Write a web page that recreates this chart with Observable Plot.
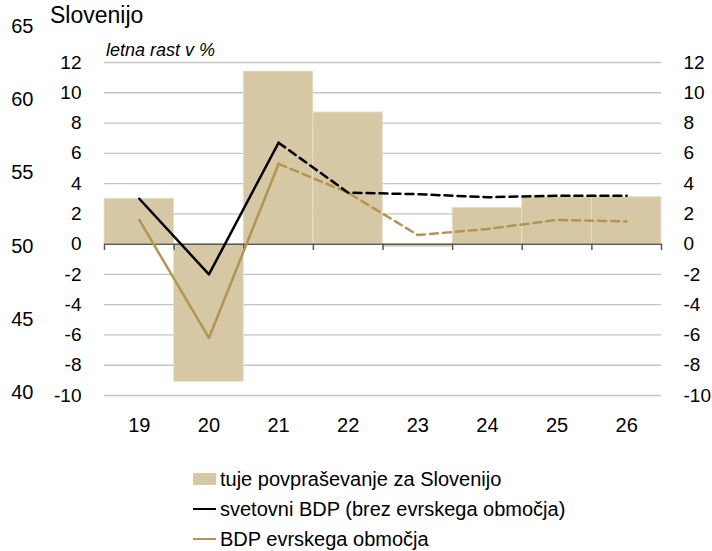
<!DOCTYPE html>
<html>
<head>
<meta charset="utf-8">
<script src="https://cdn.jsdelivr.net/npm/d3@7"></script>
<script src="https://cdn.jsdelivr.net/npm/@observablehq/plot@0.6"></script>
<style>
  html, body { margin: 0; padding: 0; background: #fff; }
  #wrap { position: relative; width: 712px; height: 551px; overflow: hidden; font-family: "Liberation Sans", Arial, sans-serif; color: #000; }
  #title { position: absolute; left: 50px; top: 2px; font-size: 23px; line-height: 1.15; white-space: nowrap; }
  #subtitle { position: absolute; left: 106px; top: 41px; font-size: 18px; font-style: italic; line-height: 1; white-space: nowrap; }
  #legend { position: absolute; left: 193px; top: 464px; font-size: 20px; line-height: 30px; }
  .row { display: flex; align-items: center; height: 30px; white-space: nowrap; }
  .sw { width: 23px; margin-right: 4px; }
  #chart { position: absolute; left: 0; top: 0; }
</style>
</head>
<body>
<div id="wrap">
  <div id="chart"></div>
  <div id="title">Slovenijo</div>
  <div id="subtitle">letna rast v %</div>
  <div id="legend"></div>
</div>
<script>
// ---- data ----
const years = ["19", "20", "21", "22", "23", "24", "25", "26"];
const foreignDemand = [3.0, -9.1, 11.4, 8.7, -0.2, 2.4, 3.1, 3.1];   // tuje povpraševanje za Slovenijo
const worldGDP      = [3.0, -2.0, 6.7, 3.4, 3.3, 3.1, 3.2, 3.2];      // svetovni BDP (brez evrskega območja)
const euroGDP       = [1.6, -6.2, 5.3, 3.4, 0.6, 1.0, 1.6, 1.5];      // BDP evrskega območja
const yTicks = [-10, -8, -6, -4, -2, 0, 2, 4, 6, 8, 10, 12];
const outerTicks = [40, 45, 50, 55, 60, 65];
const seriesNames = ["tuje povpraševanje za Slovenijo", "svetovni BDP (brez evrskega območja)", "BDP evrskega območja"];

// ---- styles ----
const barColor = "#d6c8a4";
const goldColor = "#b39552";
const lineColor = "#000000";

const rows = years.map((y, i) => ({i, year: y, fd: foreignDemand[i], w: worldGDP[i], e: euroGDP[i]}));
const solid = rows.filter(d => d.i <= 2);
const dashed = rows.filter(d => d.i >= 2);

// secondary (outer-left) axis mapped onto the main y scale
const outer = d3.scaleLinear([40, 65], [-9.83, 14.39]);
const fmt = d => String(d); // plain hyphen-minus as in the reference

const chart = Plot.plot({
  width: 712,
  height: 551,
  marginTop: 62,
  marginBottom: 156,
  marginLeft: 104,
  marginRight: 51,
  style: {fontSize: "19px", fontFamily: "Liberation Sans, Arial, sans-serif", color: "#000", background: "transparent"},
  x: {type: "linear", domain: [0, years.length]},
  y: {domain: [-10, 12]},
  marks: [
    Plot.ruleY(yTicks.filter(t => t !== 0), {stroke: "#c4c4c4", strokeWidth: 1.3}),
    Plot.rectY(rows, {x1: d => d.i, x2: d => d.i + 1, y1: 0, y2: "fd", fill: barColor, stroke: "#e9e1cc", strokeWidth: 0.8}),
    Plot.ruleY([0], {stroke: "#595959", strokeWidth: 1.5}),
    Plot.ruleX(d3.range(0, years.length + 1), {y1: 0, y2: -0.42, stroke: "#595959", strokeWidth: 1.5}),
    Plot.line(solid, {x: d => d.i + 0.5, y: "e", stroke: goldColor, strokeWidth: 2.5}),
    Plot.line(dashed, {x: d => d.i + 0.5, y: "e", stroke: goldColor, strokeWidth: 2.5, strokeDasharray: "8,5"}),
    Plot.line(solid, {x: d => d.i + 0.5, y: "w", stroke: lineColor, strokeWidth: 2.5}),
    Plot.line(dashed, {x: d => d.i + 0.5, y: "w", stroke: lineColor, strokeWidth: 2.5, strokeDasharray: "8,5"}),
    Plot.axisX(rows.map(d => d.i + 0.5), {tickSize: 0, tickPadding: 22, tickFormat: d => years[Math.floor(d)], label: null, fontSize: 20}),
    Plot.axisY(yTicks, {anchor: "left", tickSize: 0, tickPadding: 23, tickFormat: fmt, label: null}),
    Plot.axisY(yTicks, {anchor: "right", tickSize: 0, tickPadding: 22, tickFormat: fmt, label: null}),
    Plot.text(outerTicks, {y: d => outer(d), text: fmt, frameAnchor: "left", dx: -71, textAnchor: "end", fontSize: 20})
  ]
});
document.getElementById("chart").appendChild(chart);

// ---- legend ----
const legend = document.getElementById("legend");
const swatches = [
  `<div class="sw" style="height:12px;background:${barColor}"></div>`,
  `<div class="sw" style="height:2.5px;background:${lineColor}"></div>`,
  `<div class="sw" style="height:2.5px;background:${goldColor}"></div>`
];
seriesNames.forEach((name, k) => {
  const r = document.createElement("div");
  r.className = "row";
  r.innerHTML = swatches[k] + `<span>${name}</span>`;
  legend.appendChild(r);
});
</script>
</body>
</html>
